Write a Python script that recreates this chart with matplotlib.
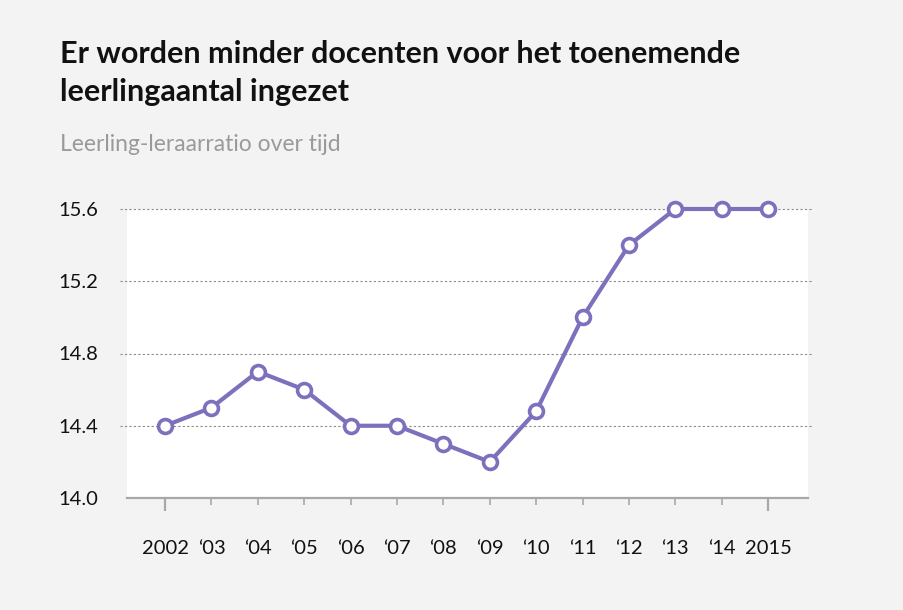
import matplotlib
matplotlib.use("Agg")
import matplotlib.pyplot as plt
import matplotlib.transforms as mtransforms

# Data
years = [2002, 2003, 2004, 2005, 2006, 2007, 2008, 2009, 2010, 2011, 2012, 2013, 2014, 2015]
ratio = [14.4, 14.5, 14.7, 14.6, 14.4, 14.4, 14.3, 14.2, 14.48, 15.0, 15.4, 15.6, 15.6, 15.6]
year_labels = ["2002", "\u201803", "\u201804", "\u201805", "\u201806", "\u201807", "\u201808",
               "\u201809", "\u201810", "\u201811", "\u201812", "\u201813", "\u201814", "2015"]
y_ticks = [14.0, 14.4, 14.8, 15.2, 15.6]

title = "Er worden minder docenten voor het toenemende\nleerlingaantal ingezet"
subtitle = "Leerling-leraarratio over tijd"

bg = "#f3f3f3"
purple = "#7d70bd"

plt.rcParams["font.family"] = ["Lato", "DejaVu Sans"]

fig = plt.figure(figsize=(9.04, 6.10), dpi=100, facecolor=bg)
ax = fig.add_axes([127 / 904, 1 - 498 / 610, (808 - 127) / 904, (498 - 209) / 610])
ax.set_facecolor("white")

ax.set_xlim(2001.18, 2015.86)
ax.set_ylim(14.0, 15.6)

# gridlines, slightly wider than the white area
trans = mtransforms.blended_transform_factory(ax.transAxes, ax.transData)
for yv in y_ticks[1:]:
    ax.plot([-0.01, 1.006], [yv, yv], transform=trans, color="#8a8a8a",
            lw=0.8, ls=(0, (2, 2)), clip_on=False, zorder=1)

ax.plot(years, ratio, color=purple, lw=3, marker="o", ms=10,
        mfc="white", mec=purple, mew=2.6, clip_on=False, zorder=3)

for s in ["top", "right", "left"]:
    ax.spines[s].set_visible(False)
ax.spines["bottom"].set_color("#a8a8a8")
ax.spines["bottom"].set_linewidth(1.6)

ax.set_yticks(y_ticks)
ax.set_yticklabels([f"{v:.1f}" for v in y_ticks])
ax.tick_params(axis="y", length=0, pad=21, labelsize=14.5, labelcolor="#111111")

ax.set_xticks(years)
ax.set_xticklabels(year_labels)
ax.tick_params(axis="x", length=5, width=1.2, color="#a8a8a8", pad=25,
               labelsize=14.5, labelcolor="#111111")
for i, t in enumerate(ax.xaxis.get_major_ticks()):
    if i in (0, len(years) - 1):
        t.tick1line.set_markersize(9)
        t.tick1line.set_markeredgewidth(1.6)

fig.text(60 / 904, 1 - 40 / 610, title, fontsize=22, fontweight="bold",
         color="#111111", va="top", ha="left", linespacing=1.45)
fig.text(60 / 904, 1 - 134 / 610, subtitle, fontsize=16.5, color="#9a9a9a",
         va="top", ha="left")

fig.savefig("out.png", dpi=100, facecolor=bg)
